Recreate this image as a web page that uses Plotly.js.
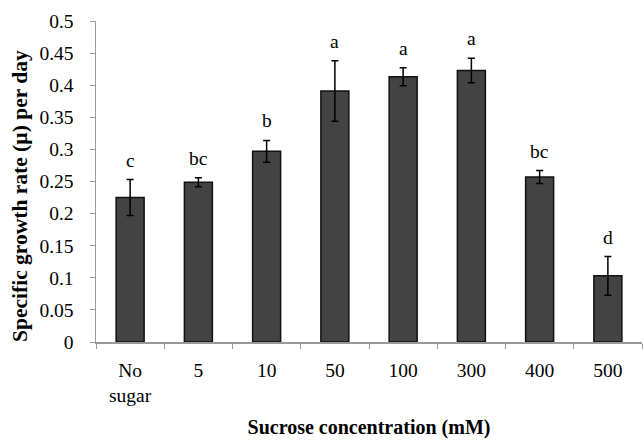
<!DOCTYPE html>
<html>
<head>
<meta charset="utf-8">
<script src="https://cdn.plot.ly/plotly-3.0.1.min.js"></script>
<style>html,body{margin:0;padding:0;background:#fff;}#chart{width:644px;height:440px;}</style>
</head>
<body>
<div id="chart"></div>
<script>
const categories = ["No<br>sugar", "5", "10", "50", "100", "300", "400", "500"];
const growthRate = [0.225, 0.249, 0.297, 0.391, 0.413, 0.423, 0.257, 0.103];
const errors = [0.028, 0.007, 0.017, 0.047, 0.014, 0.019, 0.010, 0.030];
const letters = ["c", "bc", "b", "a", "a", "a", "bc", "d"];
const yTitle = "<b>Specific growth rate (µ) per day</b>";
const xTitle = "<b>Sucrose concentration (mM)</b>";

const font = "'Liberation Serif', 'Times New Roman', serif";

const trace = {
  type: "bar",
  x: categories,
  y: growthRate,
  marker: {color: "#434343", line: {color: "#111", width: 1.5}},
  error_y: {type: "data", array: errors, visible: true, color: "#000", thickness: 1.5, width: 3.5}
};

const annotations = categories.map((c, i) => ({
  x: i, y: growthRate[i] + errors[i], xref: "x", yref: "y",
  text: letters[i], showarrow: false, yanchor: "bottom", yshift: 7,
  font: {family: font, size: 19.5, color: "#000"}
}));
annotations.push({
  xref: "paper", yref: "paper", x: -76 / 546, y: 0.455,
  xanchor: "center", yanchor: "middle", textangle: -90,
  text: yTitle, showarrow: false,
  font: {family: font, size: 21.5, color: "#000"}
});

const layout = {
  width: 644, height: 440,
  margin: {l: 96, r: 2, t: 21, b: 98},
  paper_bgcolor: "#fff", plot_bgcolor: "#fff",
  showlegend: false,
  bargap: 0.59,
  font: {family: font, size: 19.5, color: "#000"},
  xaxis: {
    type: "category",
    categoryorder: "array", categoryarray: categories,
    range: [-0.5, 7.5],
    showline: true, linecolor: "#999", linewidth: 1.5,
    ticks: "outside", tickson: "boundaries", ticklen: 5, tickcolor: "#999",
    ticklabelstandoff: 10,
    tickangle: 0,
    tickfont: {family: font, size: 19.5},
    title: {text: xTitle, font: {family: font, size: 20}, standoff: 14},
    showgrid: false, zeroline: false
  },
  yaxis: {
    range: [0, 0.5], dtick: 0.05, tick0: 0,
    showline: true, linecolor: "#999", linewidth: 1.5,
    ticks: "outside", ticklen: 5, tickcolor: "#999",
    ticklabelstandoff: 12,
    tickfont: {family: font, size: 19.5},
    showgrid: false, zeroline: false
  },
  annotations: annotations
};

Plotly.newPlot("chart", [trace], layout, {displayModeBar: false, staticPlot: true});
</script>
</body>
</html>
